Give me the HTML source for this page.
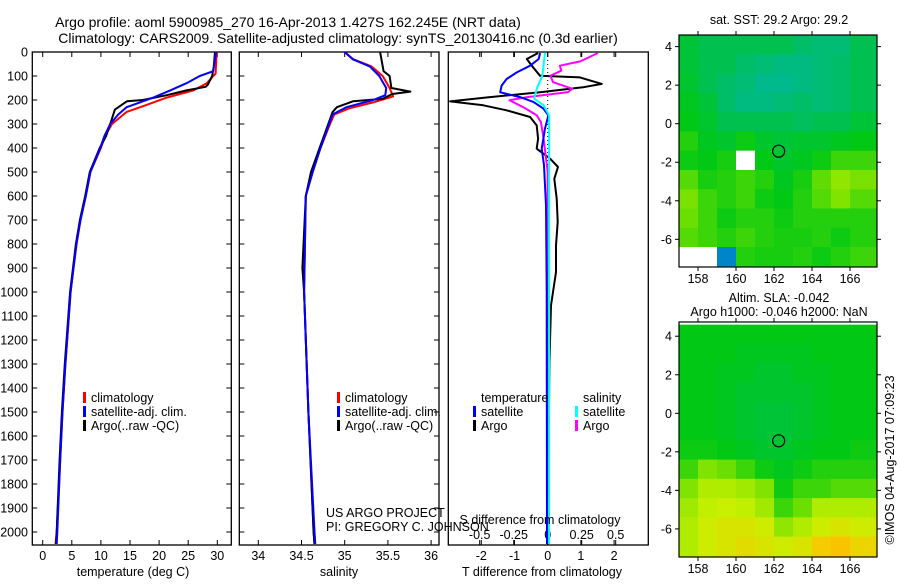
<!DOCTYPE html>
<html><head><meta charset="utf-8"><style>
html,body{margin:0;padding:0;background:#fff;}
svg text{font-family:"Liberation Sans",sans-serif;font-size:12.5px;fill:#000;}
</style></head><body>
<svg id="fig" width="900" height="580" xmlns="http://www.w3.org/2000/svg">
<g id="maps"></g>
<g id="plots"></g>
<text x="288" y="27" text-anchor="middle" style="font-size:14px">Argo profile: aoml 5900985_270 16-Apr-2013 1.427S 162.245E (NRT data)</text>
<text x="338" y="43" text-anchor="middle" style="font-size:14px">Climatology: CARS2009. Satellite-adjusted climatology: synTS_20130416.nc (0.3d earlier)</text>
<text x="779" y="24" text-anchor="middle">sat. SST: 29.2 Argo: 29.2</text>
<text x="779" y="302" text-anchor="middle">Altim. SLA: -0.042</text>
<text x="779" y="316" text-anchor="middle">Argo h1000: -0.046 h2000: NaN</text>
<text transform="translate(894,460) rotate(-90)" text-anchor="middle">©IMOS 04-Aug-2017 07:09:23</text>
<text x="326" y="517">US ARGO PROJECT</text>
<text x="326" y="531">PI: GREGORY C. JOHNSON</text>
<text x="133" y="576" text-anchor="middle">temperature (deg C)</text>
<text x="339" y="576" text-anchor="middle">salinity</text>
<text x="542" y="576" text-anchor="middle">T difference from climatology</text>
<text x="540" y="524" text-anchor="middle">S difference from climatology</text>
</svg>
<script>
// ---------- data ----------
const depthTicks=[0,100,200,300,400,500,600,700,800,900,1000,1100,1200,1300,1400,1500,1600,1700,1800,1900,2000];
const tempTicks=[0,5,10,15,20,25,30];
const salTicks=[34,34.5,35,35.5,36];
const salTickLabels=["34","34.5","35","35.5","36"];
const tdiffTicks=[-2,-1,0,1,2];
const sdiffTicks=[-0.5,-0.25,0,0.25,0.5];
const sdiffTickLabels=["-0.5","-0.25","0","0.25","0.5"];

const tArgoDepth=[0,60,100,135,145,160,180,200,205,240,300,350,400,500,600,700,800,900,1000,1300,1500,1700,2000,2050];
const tArgoVal=[29.6,29.4,29.1,28.4,28.0,24.7,21.3,17.2,14.5,12.4,11.6,10.9,9.8,8.1,7.3,6.4,5.7,5.2,4.7,3.8,3.3,2.9,2.4,2.3];
const tSatDepth=[0,80,100,130,160,190,210,230,260,300,350,400,500,600,700,800,900,1000,1300,1500,1700,2000,2050];
const tSatVal=[29.8,29.3,27.0,24.7,21.9,19.0,16.7,14.4,13.0,11.6,10.6,9.9,8.2,7.4,6.5,5.8,5.3,4.8,3.9,3.4,3.0,2.5,2.4];
const tClimDepth=[0,90,130,160,190,220,250,300,350,400,500,600,700,800,900,1000,1300,1500,1700,2000,2050];
const tClimVal=[29.9,29.7,28.2,25.9,21.3,17.9,14.4,11.9,10.7,10.0,8.2,7.4,6.5,5.8,5.3,4.8,3.9,3.4,3.0,2.4,2.2];

const sArgoDepth=[0,80,100,150,165,175,195,205,230,250,300,400,500,600,900,1000,1500,2000,2050];
const sArgoVal=[35.41,35.45,35.52,35.54,35.76,35.55,35.44,35.10,34.91,34.86,34.81,34.71,34.61,34.55,34.51,34.53,34.58,34.64,34.65];
const sSatDepth=[0,30,60,100,150,180,200,230,260,300,400,500,600,1000,1500,2000,2050];
const sSatVal=[35.0,35.09,35.29,35.40,35.48,35.47,35.33,35.02,34.86,34.82,34.72,34.63,34.55,34.53,34.58,34.65,34.66];
const sClimDepth=[0,30,60,100,150,185,210,235,260,300,400,500,600,1000,1500,2000,2050];
const sClimVal=[35.0,35.1,35.31,35.44,35.52,35.56,35.33,35.05,34.88,34.83,34.72,34.63,34.55,34.53,34.58,34.64,34.65];

const dTArgoDepth=[4,29,64,99,106,133,147,168,188,206,222,243,271,306,361,403,444,479,528,611,708,806,917,1056,1300,2050];
const dTArgoVal=[-0.29,-0.63,-0.44,-0.23,0.97,1.63,1.06,-0.23,-1.74,-2.94,-1.94,-1.24,-0.53,-0.33,-0.29,-0.33,0.07,0.31,0.2,0.27,0.3,0.25,0.25,0.1,0.05,0.0];
const dTSatDepth=[4,29,57,85,113,140,168,188,208,236,264,319,403,472,639,1000,2050];
const dTSatVal=[-0.23,-0.27,-0.53,-0.93,-1.24,-1.39,-1.43,-0.83,-0.43,-0.13,0.02,-0.08,-0.18,-0.11,-0.05,-0.03,-0.02];
const dSSatDepth=[4,99,153,194,222,264,500,2050];
const dSSatVal=[-0.02,-0.04,-0.08,-0.10,-0.03,0.01,0.01,0.01];
const dSArgoDepth=[4,39,57,78,99,126,153,167,188,201,236,264,292,361,500,2050];
const dSArgoVal=[0.37,0.24,0.09,0.1,0.02,0.04,0.18,0.15,-0.15,-0.28,-0.16,-0.08,-0.05,-0.03,0.0,0.0];

// map heat values (rows lat 4..-7, cols lon 157..166), null = no data
const sstGrid=[
[0.52,0.5,0.5,0.5,0.5,0.5,0.48,0.47,0.47,0.5],
[0.52,0.5,0.5,0.48,0.47,0.46,0.46,0.47,0.48,0.5],
[0.53,0.5,0.48,0.47,0.45,0.45,0.46,0.47,0.48,0.5],
[0.54,0.52,0.48,0.46,0.46,0.47,0.48,0.47,0.48,0.5],
[0.55,0.53,0.5,0.5,0.5,0.5,0.49,0.5,0.5,0.52],
[0.58,0.54,0.53,0.56,0.53,0.52,0.53,0.53,0.54,0.55],
[0.56,0.55,0.57,null,0.55,0.53,0.54,0.56,0.6,0.6],
[0.62,0.57,0.58,0.6,0.58,0.54,0.57,0.63,0.68,0.65],
[0.65,0.6,0.58,0.6,0.56,0.55,0.58,0.62,0.66,0.62],
[0.64,0.6,0.56,0.58,0.58,0.56,0.58,0.58,0.58,0.58],
[0.62,0.6,0.58,0.6,0.58,0.57,0.57,0.58,0.56,0.58],
[null,null,0.2,0.58,0.57,0.57,0.58,0.56,0.58,0.6]];
const slaGrid=[
[0.55,0.55,0.55,0.55,0.55,0.55,0.55,0.55,0.55,0.55],
[0.55,0.55,0.55,0.54,0.54,0.54,0.54,0.55,0.55,0.55],
[0.55,0.55,0.54,0.54,0.53,0.53,0.54,0.54,0.55,0.55],
[0.55,0.55,0.54,0.53,0.53,0.53,0.53,0.54,0.55,0.55],
[0.55,0.55,0.54,0.53,0.52,0.52,0.53,0.54,0.55,0.55],
[0.55,0.55,0.54,0.53,0.52,0.52,0.53,0.54,0.55,0.55],
[0.56,0.56,0.55,0.54,0.53,0.53,0.54,0.55,0.55,0.56],
[0.6,0.66,0.64,0.6,0.56,0.54,0.56,0.58,0.58,0.58],
[0.66,0.72,0.72,0.7,0.66,0.56,0.6,0.6,0.62,0.62],
[0.7,0.74,0.75,0.74,0.7,0.6,0.64,0.72,0.72,0.72],
[0.72,0.76,0.78,0.78,0.76,0.68,0.72,0.76,0.78,0.76],
[0.72,0.76,0.78,0.8,0.78,0.76,0.78,0.84,0.86,0.82]];
const lonTicks=[158,160,162,164,166];
const latTicks=[4,2,0,-2,-4,-6];
const argoLon=[162.245];
const argoLat=[-1.427];

// ---------- helpers ----------
const NS="http://www.w3.org/2000/svg";
const P=document.getElementById('plots'), M=document.getElementById('maps');
function mk(tag,attrs,parent){const e=document.createElementNS(NS,tag);for(const k in attrs)e.setAttribute(k,attrs[k]);(parent||P).appendChild(e);return e;}
const TOP=52, BOT=545;
const yD=d=>TOP+d*0.24;
const xT=v=>42.7+v*5.82;
const xS=v=>258.3+(v-34)*86.4;
const xDT=v=>547.7+v*33.2;
const xDS=v=>547.7+v*136;

function frame(name,x0,x1,ticksY){
  const r=mk('rect',{x:x0,y:TOP,width:x1-x0,height:BOT-TOP,fill:'none',stroke:'#000','stroke-width':1.3});
  
  
  if(ticksY){depthTicks.forEach(d=>{
    mk('line',{x1:x0,x2:x0+5,y1:yD(d),y2:yD(d),stroke:'#000'});
    mk('line',{x1:x1-5,x2:x1,y1:yD(d),y2:yD(d),stroke:'#000'});
  });}
}
function xticks(ticks,labels,fx,ly,name){
  ticks.forEach((v,i)=>{
    const x=fx(v);
    mk('line',{x1:x,x2:x,y1:BOT,y2:BOT-5,stroke:'#000'});
    mk('line',{x1:x,x2:x,y1:TOP,y2:TOP+5,stroke:'#000'});
    const t=mk('text',{x:x,y:ly,'text-anchor':'middle'});t.textContent=labels[i];
    
    
  });
}
function line(depths,vals,fx,color,name,w){
  const pts=depths.map((d,i)=>fx(vals[i]).toFixed(1)+','+yD(d).toFixed(1)).join(' ');
  const p=mk('polyline',{points:pts,fill:'none',stroke:color,'stroke-width':w||2,'stroke-linejoin':'round'});
  
  
}
function legend(x,y,items,name){
  items.forEach((it,i)=>{
    mk('rect',{x:x,y:y+i*14-10,width:3,height:11,fill:it[0]});
    const t=mk('text',{x:x+8,y:y+i*14});t.textContent=it[1];
    
    
  });
}

// panel 1
frame('temperature-panel',32.3,231.3,true);
depthTicks.forEach(d=>{const t=mk('text',{x:28,y:yD(d)+4.5,'text-anchor':'end'});t.textContent=d;

});
xticks(tempTicks,tempTicks.map(String),xT,560,'temperature-tick-label');
line(tClimDepth,tClimVal,xT,'#ff0000','temperature-climatology');
line(tArgoDepth,tArgoVal,xT,'#000','temperature-argo');
line(tSatDepth,tSatVal,xT,'#0000ff','temperature-satellite-adj');
legend(83,402,[['#f00','climatology'],['#00f','satellite-adj. clim.'],['#000','Argo(..raw -QC)']],'temperature-legend-entry');

// panel 2
frame('salinity-panel',239.3,439,true);
xticks(salTicks,salTickLabels,xS,560,'salinity-tick-label');
line(sClimDepth,sClimVal,xS,'#ff0000','salinity-climatology');
line(sArgoDepth,sArgoVal,xS,'#000','salinity-argo');
line(sSatDepth,sSatVal,xS,'#0000ff','salinity-satellite-adj');
legend(337,402,[['#f00','climatology'],['#00f','satellite-adj. clim.'],['#000','Argo(..raw -QC)']],'salinity-legend-entry');

// panel 3
frame('difference-panel',448.3,648.3,false);
xticks(tdiffTicks,tdiffTicks.map(String),xDT,560,'t-diff-tick-label');
xticks(sdiffTicks,sdiffTickLabels,xDS,539,'s-diff-tick-label');
mk('line',{x1:xDT(0),x2:xDT(0),y1:TOP,y2:BOT,stroke:'#000','stroke-dasharray':'1,3'});
line(dTArgoDepth,dTArgoVal,xDT,'#000','t-diff-argo');
line(dSArgoDepth,dSArgoVal,xDS,'#ff00ff','s-diff-argo');
line(dTSatDepth,dTSatVal,xDT,'#0000ff','t-diff-satellite');
line(dSSatDepth,dSSatVal,xDS,'#00ffff','s-diff-satellite');
legend(473,402,[['#fff','temperature'],['#00f','satellite'],['#000','Argo']],'t-diff-legend-entry');
legend(575,402,[['#fff','salinity'],['#0ff','satellite'],['#f0f','Argo']],'s-diff-legend-entry');

// maps
const stops=[[0,[0,0,140]],[0.3,[0,200,230]],[0.45,[0,185,140]],[0.55,[0,200,20]],[0.65,[120,225,0]],[0.75,[200,240,0]],[0.85,[250,200,0]],[1,[250,120,0]]];
function cmap(v){for(let i=1;i<stops.length;i++){if(v<=stops[i][0]){const a=stops[i-1],b=stops[i],f=(v-a[0])/(b[0]-a[0]);
return 'rgb('+a[1].map((c,k)=>Math.round(c+(b[1][k]-c)*f)).join(',')+')';}}return 'rgb(250,120,0)';}
const xLon=lon=>736+(lon-160)*19;
function drawMap(grid,y0lat,yTop,yBot,name){
  const yLat=lat=>y0lat-lat*19.27;
  const L=679,R=877;
  grid.forEach((row,r)=>row.forEach((v,c)=>{
    const lat=4.6-r, lon=157+c;
    const x1=Math.max(L,xLon(lon)), x2=Math.min(R,xLon(lon+1.04));
    const ya=Math.max(yTop,yLat(lat)), yb=Math.min(yBot,yLat(lat-1.04));
    const cell=mk('rect',{x:x1,y:ya,width:(c==row.length-1?R-x1:x2-x1),height:(r==grid.length-1?yBot-ya:yb-ya),fill:v==null?'#fff':cmap(v)},M);
    
    
  }));
  const fr=mk('rect',{x:L,y:yTop,width:R-L,height:yBot-yTop,fill:'none',stroke:'#000','stroke-width':1.2},M);
  
  
  lonTicks.forEach(lon=>{const x=xLon(lon);
    mk('line',{x1:x,x2:x,y1:yTop,y2:yTop-4,stroke:'#000'},M);
    mk('line',{x1:x,x2:x,y1:yBot,y2:yBot+4,stroke:'#000'},M);
    const t=mk('text',{x:x,y:yBot+16,'text-anchor':'middle'},M);t.textContent=lon;
    
    });
  latTicks.forEach(lat=>{const y=yLat(lat);
    mk('line',{x1:L,x2:L-4,y1:y,y2:y,stroke:'#000'},M);
    mk('line',{x1:R,x2:R+4,y1:y,y2:y,stroke:'#000'},M);
    const t=mk('text',{x:672,y:y+4.5,'text-anchor':'end'},M);t.textContent=lat;
    
    });
  argoLon.forEach((lon,i)=>{const c=mk('circle',{cx:xLon(lon),cy:yLat(argoLat[i]),r:6,fill:'none',stroke:'#000','stroke-width':1.2},M);
    
    });
}
drawMap(sstGrid,123.7,35,267,'sst-map');
drawMap(slaGrid,413.3,322,557,'sla-map');
</script>
</body></html>
